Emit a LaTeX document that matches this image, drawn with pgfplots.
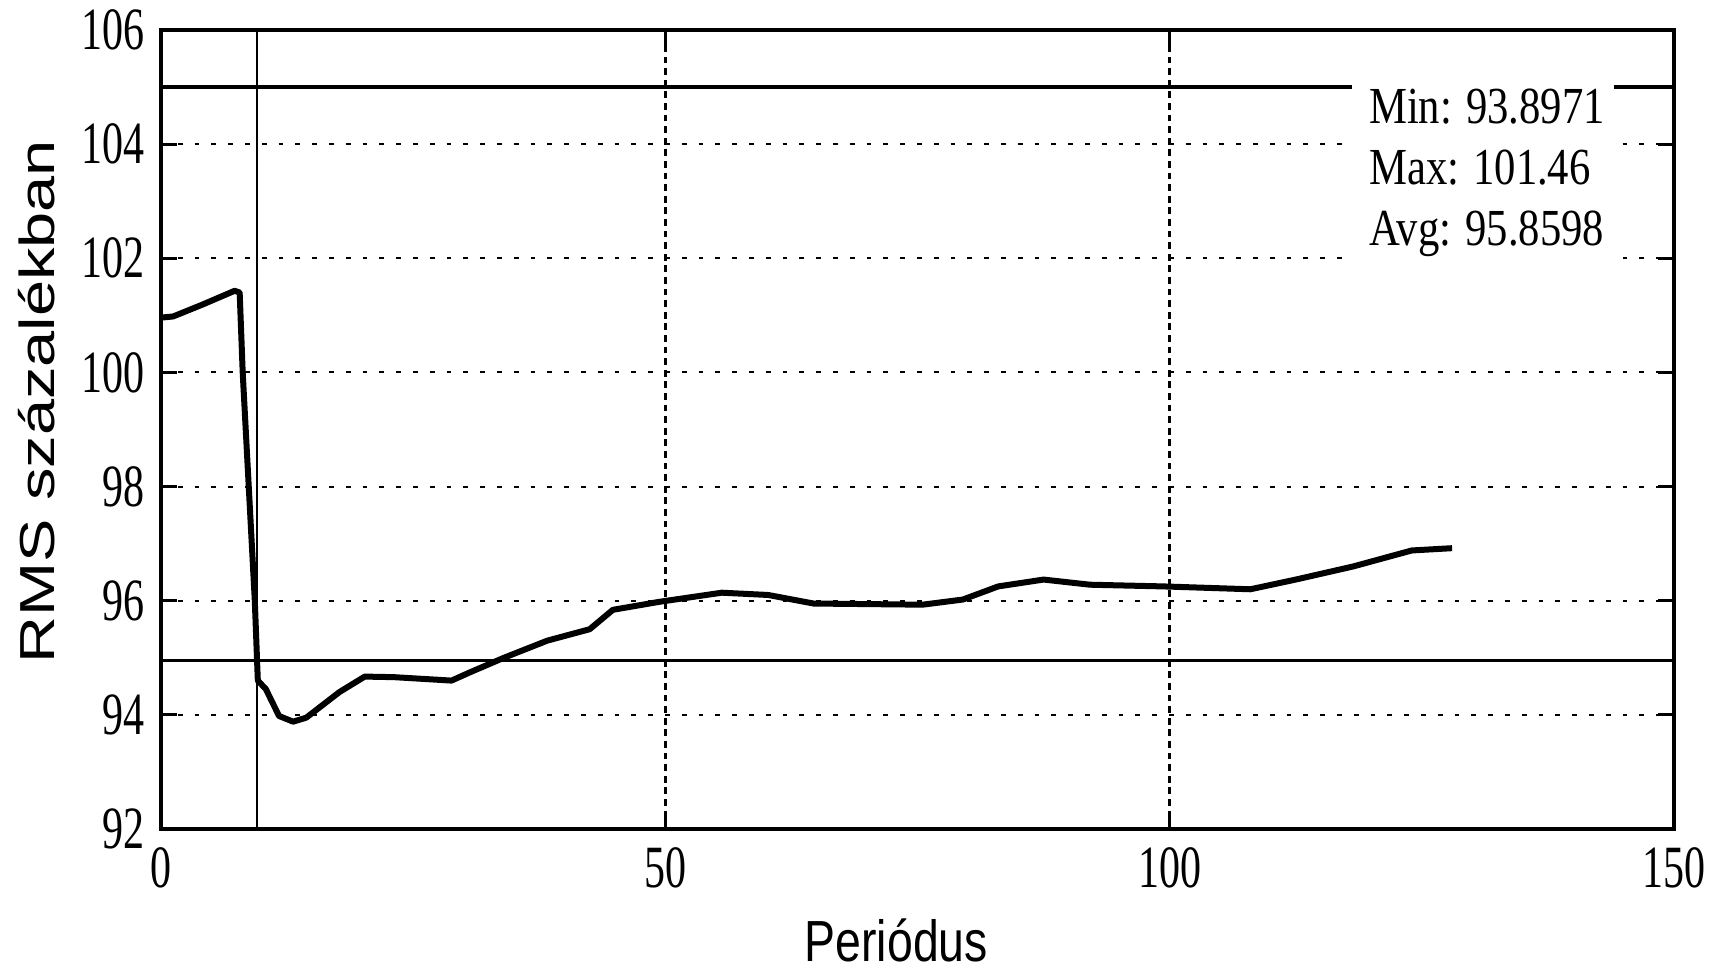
\documentclass[border=0pt]{standalone}
\usepackage{fontspec}
\setmainfont{Liberation Serif}
\newfontfamily\tickfont[FakeStretch=0.7]{Liberation Serif}
\newfontfamily\statfont[FakeStretch=0.82]{Liberation Serif}
\newfontfamily\ylabfont[FakeStretch=1.32]{Liberation Sans}
\newfontfamily\xlabfont[FakeStretch=0.8]{Liberation Sans}
\usepackage{pgfplots}
\pgfplotsset{compat=1.18}
\begin{document}
\begin{tikzpicture}
\useasboundingbox (-40.25pt,-35pt) rectangle (389.25pt,207.25pt);
\begin{axis}[
  scale only axis,
  width=378.25pt, height=199.75pt,
  xmin=0, xmax=150, ymin=92, ymax=106,
  xtick={0,50,100,150}, ytick={92,94,...,106},
  axis line style={line width=1.2pt},
  tick align=inside, major tick length=4pt,
  tick style={line width=0.8pt, black},
  /pgf/number format/assume math mode=true,
  tick label style={font=\fontsize{15}{15}\selectfont\tickfont},
  xticklabel style={yshift=-1pt},
  yticklabel style={xshift=-0.5pt},
  ymajorgrids,
  major grid style={black, line width=0.5pt, dash pattern=on 1.2pt off 3pt},
  xlabel={Periódus},
  ylabel={RMS százalékban},
  xlabel style={font=\fontsize{14.5}{14.5}\selectfont\xlabfont, at={(axis description cs:0.486,-0.139)}, anchor=center},
  ylabel style={font=\fontsize{12.3}{12.3}\selectfont\ylabfont, at={(axis description cs:-0.082,0.535)}, anchor=center},
  clip=false,
]
\draw[black, line width=0.6pt, dash pattern=on 1.7pt off 1.2pt] (axis cs:50,92) -- (axis cs:50,106);
\draw[black, line width=0.6pt, dash pattern=on 1.7pt off 1.2pt] (axis cs:100,92) -- (axis cs:100,106);
\addplot[black, line width=0.6pt, forget plot] coordinates {(9.5,92) (9.5,106)};
\addplot[black, line width=0.9pt, forget plot] coordinates {(0,105) (150,105)};
\addplot[black, line width=0.9pt, forget plot] coordinates {(0,94.95) (150,94.95)};
\addplot[black, line width=1.5pt, line join=round] coordinates {
(0,100.96) (1.2,100.98) (4,101.18) (7.3,101.43) (7.8,101.40) (8.1,100.0) (8.7,98.0) (9.3,96.0) (9.6,94.6)
(10.4,94.45) (11.7,93.98) (13.1,93.88) (14.4,93.95) (17.7,94.4) (20.2,94.67) (23.1,94.66)
(28.8,94.6) (30.7,94.75) (34,95.0) (38.3,95.3) (42.5,95.5) (44.8,95.84) (49.4,95.98)
(55.6,96.14) (60.2,96.1) (64.7,95.95) (75.5,95.93) (79.5,96.02) (83,96.25) (87.5,96.37)
(92.1,96.28) (99.4,96.25) (108,96.2) (112.5,96.37) (118.2,96.6) (124,96.88) (128,96.92)
};
\fill[white] (axis cs:118.1,101.8) rectangle (axis cs:144.1,105.2);
\node[anchor=base west, inner sep=0pt, font=\fontsize{13}{13}\selectfont\statfont] at (axis cs:119.7,104.37) {Min: 93.8971};
\node[anchor=base west, inner sep=0pt, font=\fontsize{13}{13}\selectfont\statfont] at (axis cs:119.7,103.30) {Max: 101.46};
\node[anchor=base west, inner sep=0pt, font=\fontsize{13}{13}\selectfont\statfont] at (axis cs:119.7,102.23) {Avg: 95.8598};
\end{axis}
\end{tikzpicture}
\end{document}
